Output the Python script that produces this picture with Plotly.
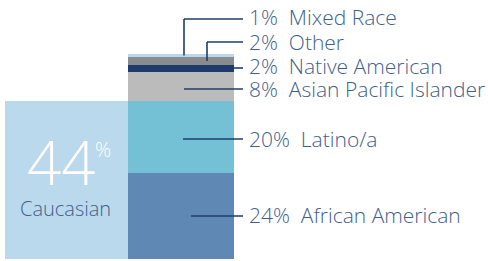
import plotly.graph_objects as go

# ---- data ----
groups = ["African American", "Latino/a", "Asian Pacific Islander", "Native American", "Other", "Mixed Race"]
shares = [24, 20, 8, 2, 2, 1]
main_group = "Caucasian"
main_share = 44

# ---- styles / layout constants ----
seg_colors = ["#5f89b4", "#74c1d5", "#bbbbbb", "#1d3a6b", "#8a8b8f", "#b9d9ea"]
main_color = "#bad9ec"
line_color = "#1f3d6e"
text_color = "#3f5f8e"
W, H = 488, 261
BOTTOM_PX = 259
PX_PER_PCT = 3.6

def y_from_px(py):
    return (BOTTOM_PX - py) / PX_PER_PCT

fig = go.Figure()
# Caucasian block
fig.add_trace(go.Bar(x=[66.5], y=[main_share], width=[123], marker=dict(color=main_color, line=dict(width=0)),
                     hoverinfo="skip", showlegend=False))
for g, v, c in zip(groups, shares, seg_colors):
    fig.add_trace(go.Bar(x=[181], y=[v], width=[106], name=g, marker=dict(color=c, line=dict(width=0)),
                         hoverinfo="skip", showlegend=False))

# connectors & labels
label_px = [215, 139, 89, 66, 42, 17]
line_px = [216, 139, 89, 68, 42, 19]
start_x = [191, 183, 184, 234, 207, 184]
elbow = [False, False, False, False, True, True]
END_X = 243
TEXT_X = 247

cum = 0
shapes = []
annotations = []
for g, v, lp, lnp, sx, el in zip(groups, shares, label_px, line_px, start_x, elbow):
    mid = cum + v / 2
    cum += v
    ly = y_from_px(lnp)
    if el:
        shapes.append(dict(type="line", xref="x", yref="y", x0=sx, x1=sx, y0=mid, y1=ly,
                           line=dict(color=line_color, width=1.6)))
    shapes.append(dict(type="line", xref="x", yref="y", x0=sx, x1=END_X, y0=ly, y1=ly,
                       line=dict(color=line_color, width=1.6)))
    annotations.append(dict(x=TEXT_X, y=y_from_px(lp), xref="x", yref="y", xanchor="left", yanchor="middle",
                            text=f"{v}%\u00a0\u00a0{g}", showarrow=False,
                            font=dict(family="Open Sans", size=21, color=text_color, weight=300)))

# big Caucasian label
annotations.append(dict(x=61, y=y_from_px(162), xref="x", yref="y", xanchor="center", yanchor="middle",
                        text=f"{main_share}", showarrow=False,
                        font=dict(family="Open Sans", size=60, color="white", weight=300)))
annotations.append(dict(x=93, y=y_from_px(149), xref="x", yref="y", xanchor="left", yanchor="middle",
                        text="%", showarrow=False,
                        font=dict(family="Open Sans", size=20, color="white", weight=300)))
annotations.append(dict(x=65, y=y_from_px(208), xref="x", yref="y", xanchor="center", yanchor="middle",
                        text=main_group, showarrow=False,
                        font=dict(family="Open Sans", size=20, color=text_color, weight=300)))

fig.update_layout(
    width=W, height=H, margin=dict(l=0, r=0, t=0, b=0),
    paper_bgcolor="white", plot_bgcolor="white",
    barmode="stack", bargap=0,
    xaxis=dict(range=[0, W], visible=False, fixedrange=True),
    yaxis=dict(range=[y_from_px(H), y_from_px(0)], visible=False, fixedrange=True),
    shapes=shapes, annotations=annotations,
)
fig.write_html("out.html", config={"displayModeBar": False},
               post_script="document.body.style.margin='0';document.body.style.overflow='hidden';")
